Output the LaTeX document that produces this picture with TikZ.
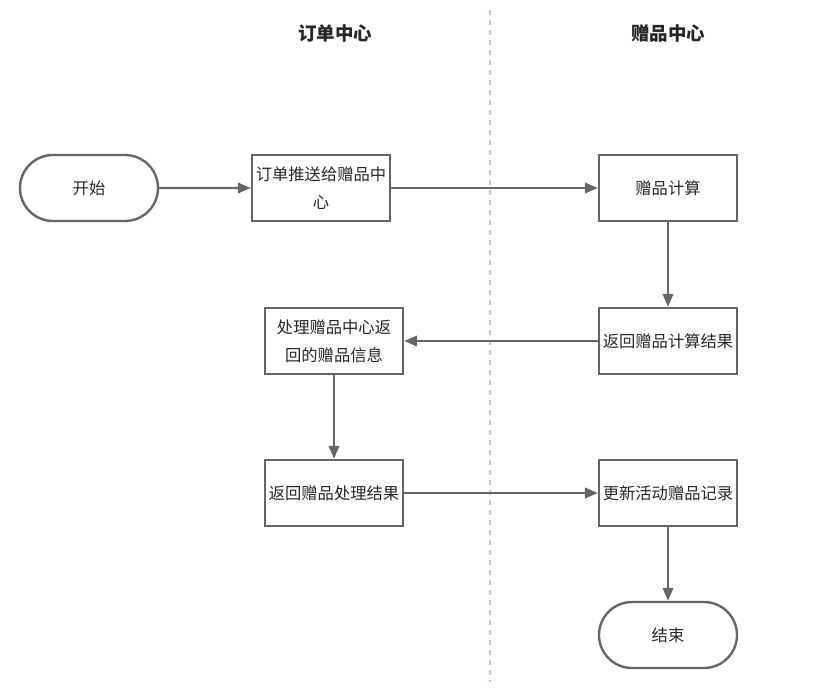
\documentclass[tikz,border=0pt]{standalone}
\usepackage{fontspec}
\setmainfont{Noto Sans CJK SC}
\usetikzlibrary{arrows.meta,shapes.misc}
\definecolor{lc}{HTML}{666666}
\definecolor{dc}{HTML}{C9BFF2}
\begin{document}
\begin{tikzpicture}[x=1pt,y=-1pt,
  box/.style={draw=lc,line width=2.4pt,minimum width=138pt,minimum height=66pt,inner sep=0pt,align=center,font=\fontsize{16.3}{28}\selectfont,text=black!85},
  term/.style={box,rounded rectangle},
  arr/.style={draw=lc,line width=2.4pt,-{Triangle[length=13pt,width=10.5pt]}},
  hdr/.style={font=\fontsize{18.5}{20}\selectfont\bfseries,text=black!85}]
\useasboundingbox (0,0) rectangle (818,692);
\draw[dc,line width=1.8pt,dash pattern=on 5pt off 5pt] (490,10) -- (490,682);
\node[hdr] (h1) at (335,33) {订单中心};
\node[hdr] (h2) at (668,33) {赠品中心};
\node[term] (start) at (89,188) {开始};
\node[box] (push) at (321,188) {订单推送给赠品中\\心};
\node[box] (calc) at (668,188) {赠品计算};
\node[box] (ret) at (668,341) {返回赠品计算结果};
\node[box] (proc) at (334,341) {处理赠品中心返\\回的赠品信息};
\node[box] (retp) at (334,493) {返回赠品处理结果};
\node[box] (upd) at (668,493) {更新活动赠品记录};
\node[term] (end) at (668,635) {结束};
\draw[arr] (start) -- (push);
\draw[arr] (push) -- (calc);
\draw[arr] (calc) -- (ret);
\draw[arr] (ret) -- (proc);
\draw[arr] (proc) -- (retp);
\draw[arr] (retp) -- (upd);
\draw[arr] (upd) -- (end);
\end{tikzpicture}
\end{document}
